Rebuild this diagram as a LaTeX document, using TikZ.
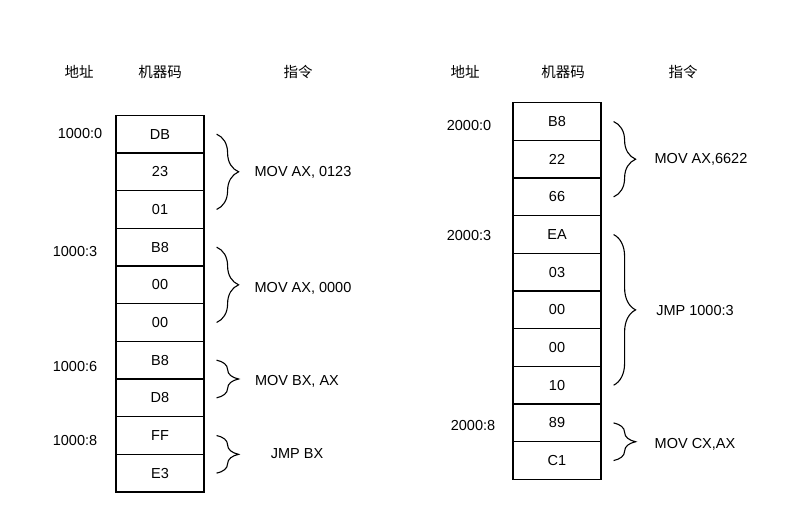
\documentclass[tikz,border=0pt]{standalone}
\usepackage{fontspec}
\setmainfont{Liberation Sans}
\newfontfamily\cjk{Noto Sans CJK SC}
\usetikzlibrary{decorations.pathreplacing}
\begin{document}
\begin{tikzpicture}[x=1pt,y=-1pt,
	cell/.style={draw,line width=1.2pt,minimum width=88pt,minimum height=37.67pt,inner sep=0pt,font=\fontsize{14.5}{16}\selectfont},
	txt/.style={inner sep=0pt,font=\fontsize{14.5}{16}\selectfont},
	head/.style={inner sep=0pt,font=\cjk\fontsize{14.5}{16}\selectfont},
	brc/.style={decorate,decoration={brace,amplitude=22pt},line width=1.1pt}]
	\useasboundingbox (0,0) rectangle (794,519);
	% headers
	\foreach \x/\t [count=\i] in {79/地址,160/机器码,298/指令,465/地址,563/机器码,683/指令}
		\node[head] (h\i) at (\x,71.5) {\t};
	% memory cells
	\foreach \b [count=\i] in {DB,23,01,B8,00,00,B8,D8,FF,E3}
		\node[cell] (L\i) at (160,{115.3+(\i-0.5)*37.67}) {\b};
	\foreach \b [count=\i] in {B8,22,66,EA,03,00,00,10,89,C1}
		\node[cell] (R\i) at (557,{102.7+(\i-0.5)*37.67}) {\b};
	% addresses
	\foreach \x/\y/\t [count=\i] in {80/133.5/1000:0,75/251.5/1000:3,75/366.5/1000:6,75/440.5/1000:8,469/125.5/2000:0,469/235.5/2000:3,473/425.5/2000:8}
		\node[txt] (a\i) at (\x,\y) {\t};
	% braces
	\foreach \c/\p/\q in {L/1/3,L/4/6,L/7/8,L/9/10,R/1/3,R/4/8,R/9/10}
		\draw[brc] ([xshift=12pt]\c\p.east) -- ([xshift=12pt]\c\q.east);
	% instructions
	\node[txt] (i1) at (303,172.5) {MOV AX, 0123};
	\node[txt] (i2) at (303,288.5) {MOV AX, 0000};
	\node[txt] (i3) at (297,381.5) {MOV BX, AX};
	\node[txt] (i4) at (297,453.5) {JMP BX};
	\node[txt] (i5) at (701,159.5) {MOV AX,6622};
	\node[txt] (i6) at (695,310.5) {JMP 1000:3};
	\node[txt] (i7) at (695,444.5) {MOV CX,AX};
\end{tikzpicture}
\end{document}
